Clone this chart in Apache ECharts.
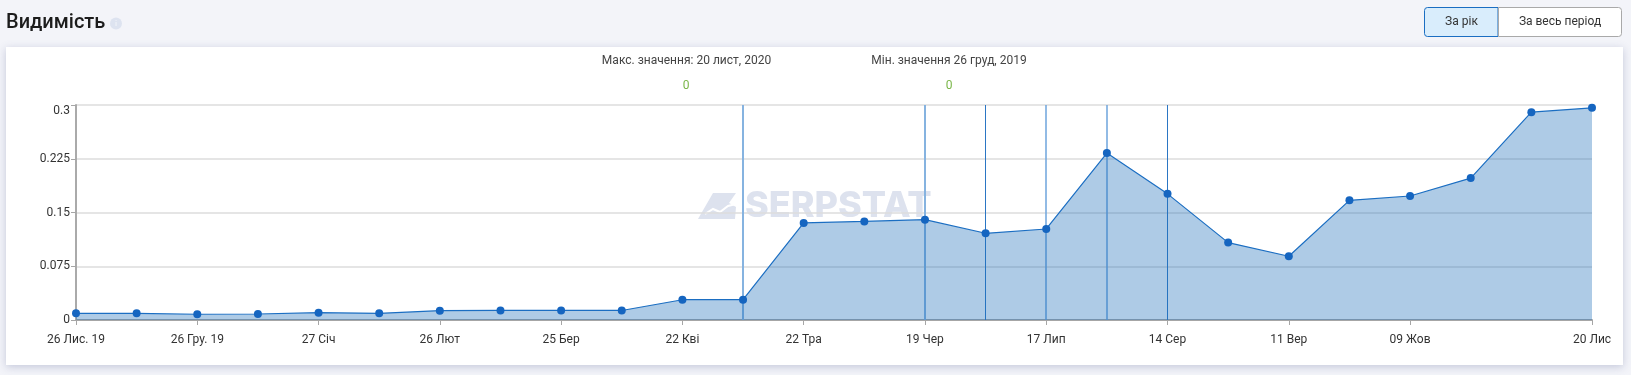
<!DOCTYPE html>
<html><head><meta charset="utf-8">
<style>html,body{margin:0;padding:0;background:#f3f4f9;overflow:hidden}#c{width:1631px;height:375px}</style>
<script src="https://cdn.jsdelivr.net/npm/echarts@6/dist/echarts.min.js"></script></head>
<body><div id="c"></div>
<script>
const categories=["26 Лис. 19","","26 Гру. 19","","27 Січ","","26 Лют","","25 Бер","","22 Кві","","22 Тра","","19 Чер","","17 Лип","","14 Сер","","11 Вер","","09 Жов","","","20 Лис"];
const values=[0.0093,0.0093,0.008,0.0084,0.0102,0.0093,0.013,0.0133,0.0133,0.0133,0.0283,0.0283,0.1355,0.1375,0.14,0.121,0.127,0.233,0.176,0.108,0.089,0.167,0.173,0.198,0.29,0.296];
const markerIndexes=[11,14,15,16,17,18];
const markerWidths=[2,2,1,1.5,1.5,1];
const markerColors=['#86b3e0','#86b3e0','#2b76c4','#6ea5dc','#6ea5dc','#2b76c4'];
const yTicks={min:0,max:0.3,interval:0.075};
const titleText="Видимість";
const buttonLabels=["За рік","За весь період"];
const statLabels=["Макс. значення: 20 лист, 2020","Мін. значення 26 груд, 2019"];
const statValues=["0","0"];
const watermark="SERPSTAT";
const font="Roboto";
const chart=echarts.init(document.getElementById('c'),null,{renderer:'canvas'});
const txt=(x,y,text,size,fill,align,weight,family)=>({type:'text',x,y,style:{text,font:`${weight||'normal'} ${size}px ${family||font}`,fill,align:align||'left',verticalAlign:'middle'}});
chart.setOption({
 animation:false,
 backgroundColor:'#f3f4f9',
 grid:{left:76,right:39,top:105,bottom:55,containLabel:false},
 xAxis:{type:'category',data:categories,boundaryGap:false,
  axisLine:{show:true,lineStyle:{color:'#a6a6a6',width:2}},
  axisTick:{show:true,alignWithLabel:true,length:5,interval:i=>categories[i]!=='',lineStyle:{color:'#a6a6a6',width:1}},
  axisLabel:{interval:i=>categories[i]!=='',margin:14,color:'#333',fontFamily:font,fontSize:12,hideOverlap:false},
  splitLine:{show:false}},
 yAxis:{type:'value',min:yTicks.min,max:yTicks.max,interval:yTicks.interval,
  axisLine:{show:true,lineStyle:{color:'#aaaaaa',width:2}},
  axisTick:{show:true,length:5,lineStyle:{color:'#a6a6a6',width:1}},
  axisLabel:{margin:6,color:'#333',fontFamily:font,fontSize:12,verticalAlignMaxLabel:'top'},
  splitLine:{show:true,lineStyle:{color:'#dddddd',width:1.5}}},
 series:[{type:'line',data:values,symbol:'circle',symbolSize:8,showSymbol:true,z:5,
  lineStyle:{color:'#1b6ec2',width:1.2},itemStyle:{color:'#1565c0'},
  areaStyle:{color:'rgba(30,110,185,0.36)',opacity:1},
  markLine:{silent:true,symbol:'none',label:{show:false},z:4,
   data:markerIndexes.map((i,k)=>[{coord:[i,yTicks.min],lineStyle:{color:markerColors[k],width:markerWidths[k],type:'solid'}},{coord:[i,yTicks.max]}])}}],
 graphic:{elements:[
  {type:'rect',z:-10,shape:{x:6,y:47,width:1617,height:318},style:{fill:'#fff',shadowBlur:8,shadowColor:'rgba(90,100,150,0.3)',shadowOffsetY:2}},
  txt(6,23,titleText,20,'#1c1c1c','left','500'),
  {type:'circle',shape:{cx:116,cy:23.5,r:6},style:{fill:'#dde3f0'}},
  txt(116,23.5,'i',8,'#eef1f8','center','bold'),
  {type:'rect',shape:{x:1424.5,y:7.5,width:73.5,height:29,r:[3,0,0,3]},style:{fill:'#d9edfc',stroke:'#1b6ec2',lineWidth:1}},
  {type:'rect',shape:{x:1498.5,y:7.5,width:123,height:29,r:[0,3,3,0]},style:{fill:'#fff',stroke:'#a9a9a9',lineWidth:1}},
  txt(1461.5,22,buttonLabels[0],12,'#333','center'),
  txt(1560,22,buttonLabels[1],12,'#333','center'),
  txt(686.5,61,statLabels[0],12,'#444','center'),
  txt(949,61,statLabels[1],12,'#444','center'),
  txt(686,85.5,statValues[0],12,'#7ab648','center'),
  txt(949,85.5,statValues[1],12,'#7ab648','center'),
  {type:'polygon',z:-5,shape:{points:[[713,193],[736,193],[729,203],[736,207],[735,219],[698,219]]},style:{fill:'#dde2ee'}},
  {type:'polyline',z:-4,shape:{points:[[705,214],[713,209],[720,212],[728,206],[736,204]]},style:{fill:null,stroke:'#fff',lineWidth:2}},
  Object.assign(txt(745,206.5,watermark,36,'#dde2ee','left','800','Inter'),{z:-5})
 ]}
});
</script></body></html>
